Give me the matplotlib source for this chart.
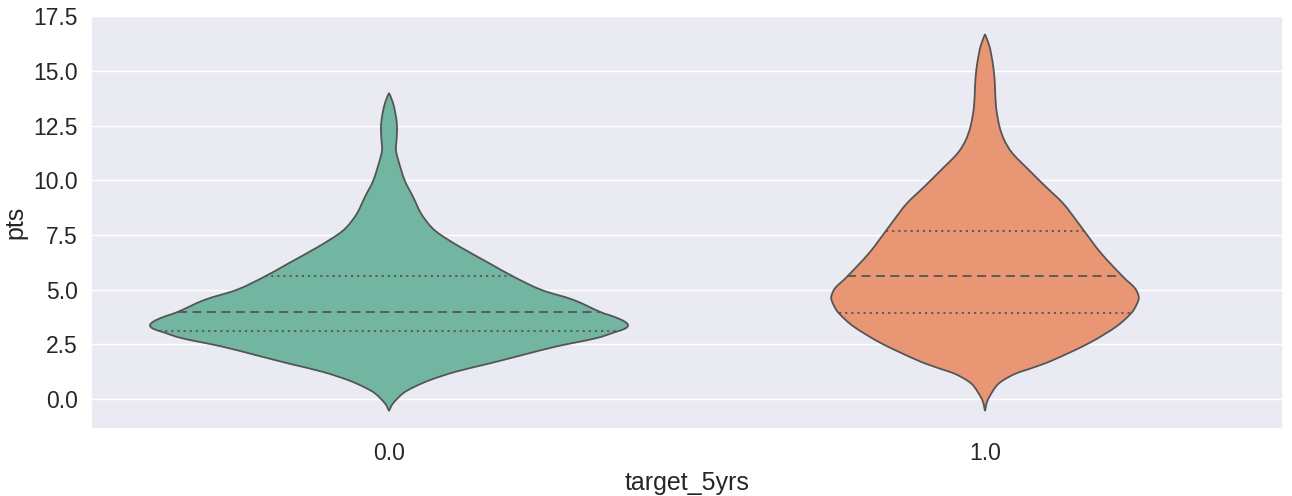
import numpy as np
import matplotlib
matplotlib.use("Agg")
import matplotlib.pyplot as plt
from matplotlib.path import Path
from matplotlib.patches import PathPatch
import seaborn as sns

# Groups on the x axis
categories = ["0.0", "1.0"]

# Kernel density outline of each group: pts value and half-width of the violin
pts_grid_0 = [14.0, 13.6, 13.06, 12.5, 12.0, 11.4, 10.93, 10.0, 9.25, 8.49, 7.88, 7.5,
              6.96, 6.2, 5.61, 5.0, 4.54, 3.99, 3.75, 3.55, 3.38, 3.22, 3.05,
              2.78, 2.40, 2.0, 1.63, 1.25, 0.87, 0.55, 0.26, -0.2, -0.55]
half_width_0 = [0.0, 0.006, 0.0108, 0.0134, 0.0130, 0.0117, 0.0155, 0.0263, 0.0403,
                0.0537, 0.0705, 0.0872, 0.119, 0.169, 0.208, 0.255, 0.309, 0.354,
                0.379, 0.395, 0.401, 0.396, 0.378, 0.347, 0.280, 0.222, 0.169,
                0.112, 0.069, 0.042, 0.0235, 0.0067, 0.0]

pts_grid_1 = [16.69, 16.2, 15.81, 15.05, 14.28, 13.37, 12.5, 11.84, 11.23, 10.47,
              9.71, 8.95, 8.18, 7.70, 6.66, 5.61, 5.12, 4.85, 4.6, 4.3, 3.92, 3.31,
              2.55, 1.78, 1.45, 1.17, 0.85, 0.56, -0.05, -0.55]
half_width_1 = [0.0, 0.0067, 0.0101, 0.0146, 0.0168, 0.0185, 0.024, 0.0324, 0.0464,
                0.0738, 0.102, 0.131, 0.153, 0.166, 0.195, 0.231, 0.250, 0.256,
                0.258, 0.254, 0.245, 0.220, 0.174, 0.114, 0.082, 0.052, 0.030,
                0.018, 0.0045, 0.0]

# Quartiles (Q1, median, Q3) of each group
quartiles_0 = [3.12, 3.99, 5.61]
quartiles_1 = [3.92, 5.61, 7.70]

sns.set_theme(style="darkgrid", font_scale=1.5)
plt.rcParams["font.family"] = ["Liberation Sans", "DejaVu Sans"]

palette = sns.color_palette("Set2", 2)
fill_colors = [sns.desaturate(c, 0.75) for c in palette]
edge_color = "#555555"


def smooth_side(xs, ys):
    """Bezier segments (Catmull-Rom) through the outline points of one side."""
    pts = np.column_stack([xs, ys])
    n = len(pts)
    verts, codes = [], []
    for i in range(n - 1):
        p0 = pts[max(i - 1, 0)]
        p1 = pts[i]
        p2 = pts[i + 1]
        p3 = pts[min(i + 2, n - 1)]
        c1 = p1 + (p2 - p0) / 6.0
        c2 = p2 - (p3 - p1) / 6.0
        verts += [tuple(c1), tuple(c2), tuple(p2)]
        codes += [Path.CURVE4] * 3
    return verts, codes


fig = plt.figure(figsize=(12.92, 4.96), dpi=100)
ax = fig.add_axes([91 / 1292, 67 / 496, 1192 / 1292, 413 / 496])

groups = [
    (pts_grid_0, half_width_0, quartiles_0),
    (pts_grid_1, half_width_1, quartiles_1),
]

for pos, (grid, hw, quarts) in enumerate(groups):
    grid = np.asarray(grid)
    hw = np.asarray(hw)
    # right side from top to bottom, then left side from bottom to top
    rv, rc = smooth_side(pos + hw, grid)
    lv, lc = smooth_side((pos - hw)[::-1], grid[::-1])
    verts = [(pos + hw[0], grid[0])] + rv + lv + [(pos, grid[0])]
    codes = [Path.MOVETO] + rc + lc + [Path.CLOSEPOLY]
    patch = PathPatch(Path(verts, codes), facecolor=fill_colors[pos],
                      edgecolor=edge_color, linewidth=1.3, zorder=2)
    ax.add_patch(patch)
    order = np.argsort(grid)
    for i, q in enumerate(quarts):
        w = np.interp(q, grid[order], hw[order])
        ls = (0, (5, 3)) if i == 1 else (0, (1.2, 2.2))
        ax.plot([pos - w, pos + w], [q, q], color=edge_color, linewidth=1.3,
                linestyle=ls, zorder=3)

ax.set_xlim(-0.5, 1.5)
ax.set_ylim(-1.37, 17.52)
ax.set_xticks(range(len(categories)))
ax.set_xticklabels(categories)
ax.set_yticks(np.arange(0, 17.6, 2.5))
ax.xaxis.grid(False)
ax.set_xlabel("target_5yrs")
ax.set_ylabel("pts")

fig.savefig("out.png", dpi=100)
